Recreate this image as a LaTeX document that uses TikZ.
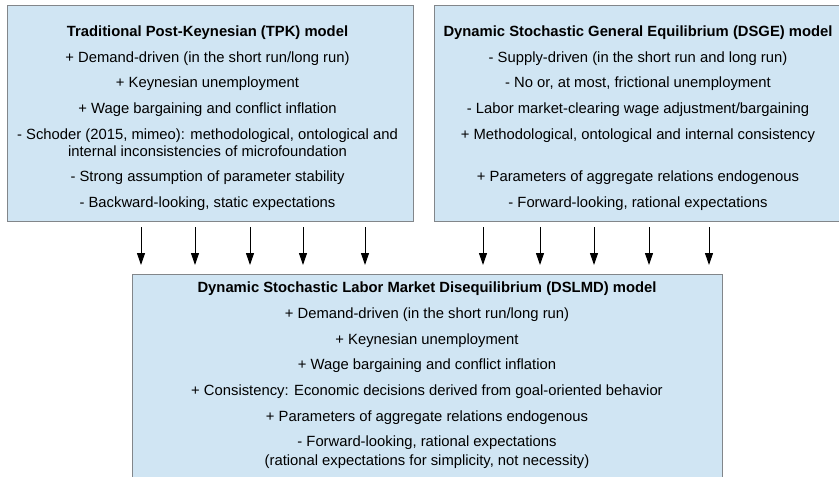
\documentclass[tikz,border=0pt]{standalone}
\usepackage{fontspec}
\setmainfont{Liberation Sans}
\usetikzlibrary{arrows.meta}
\definecolor{boxfill}{RGB}{208,229,243}
\definecolor{boxline}{RGB}{130,134,138}
\begin{document}
\begin{tikzpicture}[x=1pt,y=-1pt,
  panel/.style={draw=boxline,fill=boxfill,line width=1.3pt,anchor=north west,inner sep=0pt},
  txt/.style={anchor=base,inner sep=0pt,font=\fontsize{14.8}{18}\selectfont},
  ttl/.style={txt,font=\fontsize{14.8}{18}\selectfont\bfseries},
  flow/.style={line width=1pt,-{Triangle[width=8pt,length=12pt]}}]
\useasboundingbox (0,0) rectangle (839,477);

% the three model panels
\node[panel,minimum width=406pt,minimum height=216pt] (tpk) at (7,5) {};
\node[panel,minimum width=408pt,minimum height=216pt] (dsge) at (434,5) {};
\node[panel,minimum width=590pt,minimum height=210pt] (dslmd) at (132,274) {};

% Traditional Post-Keynesian model
\node[ttl] (tpk0) at (207.5,36.5) {Traditional Post-Keynesian (TPK) model};
\node[txt] (tpk1) at (207.5,62) {+ Demand-driven (in the short run/long run)};
\node[txt] (tpk2) at (207.5,87.5) {+ Keynesian unemployment};
\node[txt] (tpk3) at (207.5,113) {+ Wage bargaining and conflict inflation};
\node[txt] (tpk4) at (207.5,139) {- Schoder (2015, mimeo): methodological, ontological and};
\node[txt] (tpk5) at (207.5,156.5) {internal inconsistencies of microfoundation};
\node[txt] (tpk6) at (207.5,181.5) {- Strong assumption of parameter stability};
\node[txt] (tpk7) at (207.5,207) {- Backward-looking, static expectations};

% Dynamic Stochastic General Equilibrium model
\node[ttl] (dsge0) at (638,36.5) {Dynamic Stochastic General Equilibrium (DSGE) model};
\node[txt] (dsge1) at (638,62) {- Supply-driven (in the short run and long run)};
\node[txt] (dsge2) at (638,87.5) {- No or, at most, frictional unemployment};
\node[txt] (dsge3) at (638,113) {- Labor market-clearing wage adjustment/bargaining};
\node[txt] (dsge4) at (638,139) {+ Methodological, ontological and internal consistency};
\node[txt] (dsge5) at (638,181.5) {+ Parameters of aggregate relations endogenous};
\node[txt] (dsge6) at (638,207) {- Forward-looking, rational expectations};

% Dynamic Stochastic Labor Market Disequilibrium model
\node[ttl] (dl0) at (427,292.5) {Dynamic Stochastic Labor Market Disequilibrium (DSLMD) model};
\node[txt] (dl1) at (427,318.5) {+ Demand-driven (in the short run/long run)};
\node[txt] (dl2) at (427,344) {+ Keynesian unemployment};
\node[txt] (dl3) at (427,369.5) {+ Wage bargaining and conflict inflation};
\node[txt] (dl4) at (427,395.5) {+ Consistency: Economic decisions derived from goal-oriented behavior};
\node[txt] (dl5) at (427,421) {+ Parameters of aggregate relations endogenous};
\node[txt] (dl6) at (427,446.5) {- Forward-looking, rational expectations};
\node[txt] (dl7) at (427,465) {(rational expectations for simplicity, not necessity)};

% downward arrows feeding the DSLMD panel
\foreach \x [count=\i] in {141,195,250,303,365,483,540,594,649,709} {
  \coordinate (from\i) at (\x,227);
  \coordinate (to\i) at (\x,265);
  \draw[flow] (from\i) -- (to\i);
}
\end{tikzpicture}
\end{document}
